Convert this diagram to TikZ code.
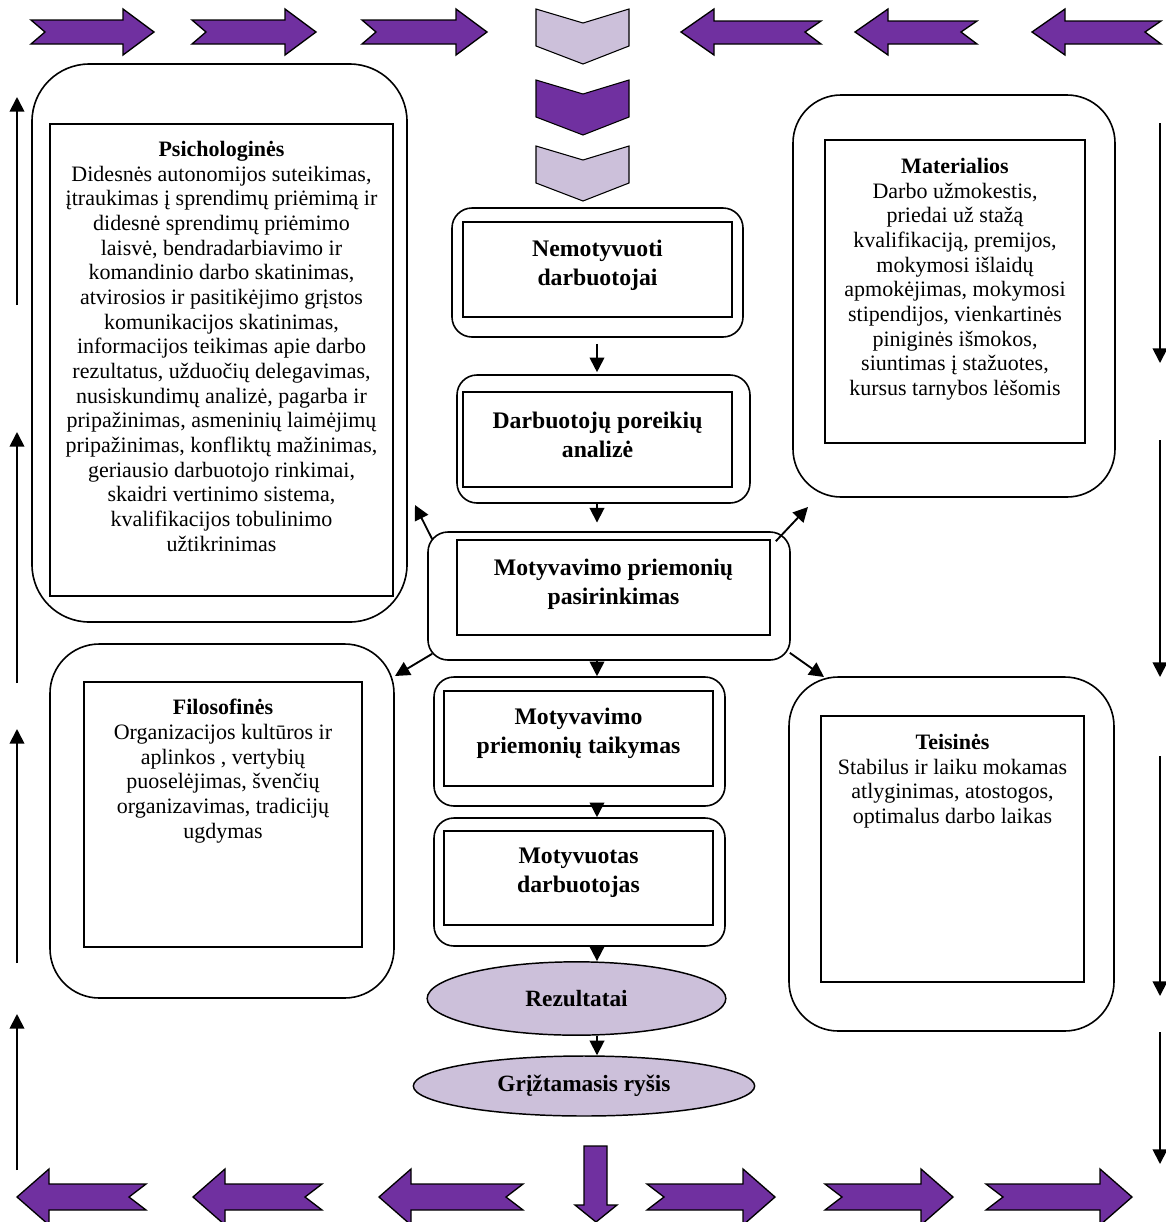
\documentclass[tikz,border=0pt]{standalone}
\usepackage{fontspec}
\setmainfont{Liberation Serif}
\usetikzlibrary{arrows.meta}
\usetikzlibrary{shapes.geometric}
\usetikzlibrary{fit}

\definecolor{violetdark}{HTML}{7030A0}
\definecolor{violetlight}{HTML}{CCC0DA}

\tikzset{
    outerbox/.style={draw, line width=1.2pt, rounded corners=#1, inner sep=0pt},
    innerbox/.style={draw, line width=1.2pt, inner sep=0pt},
    listtext/.style={anchor=north, align=center, inner sep=0pt, font=\fontsize{16.5}{18.5}\selectfont},
    steptext/.style={anchor=north, align=center, inner sep=0pt, font=\fontsize{17.8}{21.75}\selectfont\bfseries},
    result/.style={ellipse, draw, line width=1.1pt, fill=violetlight, inner sep=0pt, font=\fontsize{17.5}{21}\selectfont\bfseries},
    flow/.style={-{Triangle[length=11pt,width=11pt]}, line width=1.4pt},
    blockarrow/.style={draw, line width=1pt, fill=violetdark, line join=miter},
    chevron/.style={draw, line width=0.8pt},
}

\begin{document}
\begin{tikzpicture}[x=0.75pt, y=-0.75pt]
        \useasboundingbox (0,0) rectangle (1166,1222);

        % frame of block arrows
        \foreach \a/\b in {31/154, 192/316, 362/487}
            \draw[blockarrow] (\a,20) -- (\a+14,32) -- (\a,44) -- (\b-31,44) -- (\b-31,55) -- (\b,32) -- (\b-31,9) -- (\b-31,20) -- cycle;
        \foreach \a/\b in {681/821, 855/977, 1032/1161}
            \draw[blockarrow] (\b,21) -- (\b-16,32) -- (\b,44) -- (\a+33,44) -- (\a+33,55) -- (\a,32) -- (\a+33,9) -- (\a+33,21) -- cycle;
        \foreach \t/\c in {9/violetlight, 80/violetdark, 146/violetlight}
            \draw[chevron, fill=\c] (536,\t) -- (583,\t+14) -- (629,\t) -- (629,\t+37) -- (583,\t+55) -- (536,\t+37) -- cycle;
        \foreach \a/\b in {17/146, 193/322, 379/523}
            \draw[blockarrow] (\b,1184) -- (\b-17,1197) -- (\b,1210) -- (\a+32,1210) -- (\a+32,1225) -- (\a,1197) -- (\a+32,1169) -- (\a+32,1184) -- cycle;
        \foreach \a/\b in {647/775, 825/953, 986/1132}
            \draw[blockarrow] (\a,1184) -- (\a+17,1197) -- (\a,1210) -- (\b-32,1210) -- (\b-32,1225) -- (\b,1197) -- (\b-32,1169) -- (\b-32,1184) -- cycle;
        \draw[blockarrow] (584,1146) -- (607,1146) -- (607,1205) -- (617,1205) -- (596,1222) -- (575,1205) -- (584,1205) -- cycle;

        \foreach \b/\t in {305/97, 683/432, 963/729, 1170/1014}
            \draw[flow] (17,\b) -- (17,\t);
        \foreach \t/\b in {123/363, 440/677, 756/996, 1032/1164}
            \draw[flow] (1160,\t) -- (1160,\b);

        % side groups
        \node[outerbox=43pt, fit={(32,64) (407,622)}] (psych) {};
        \node[innerbox, fit={(50,124) (393,596)}] (psychin) {};
        \node[listtext] (psychtxt) at (221.5,141) {\textbf{Psichologinės}\\
            Didesnės autonomijos suteikimas,\\
            įtraukimas į sprendimų priėmimą ir\\
            didesnė sprendimų priėmimo\\
            laisvė, bendradarbiavimo ir\\
            komandinio darbo skatinimas,\\
            atvirosios ir pasitikėjimo grįstos\\
            komunikacijos skatinimas,\\
            informacijos teikimas apie darbo\\
            rezultatus, užduočių delegavimas,\\
            nusiskundimų analizė, pagarba ir\\
            pripažinimas, asmeninių laimėjimų\\
            pripažinimas, konfliktų mažinimas,\\
            geriausio darbuotojo rinkimai,\\
            skaidri vertinimo sistema,\\
            kvalifikacijos tobulinimo\\
            užtikrinimas};

        \node[outerbox=36pt, fit={(793,95) (1115,497)}] (mater) {};
        \node[innerbox, fit={(825,140) (1085,443)}] (materin) {};
        \node[listtext] (matertxt) at (955,158) {\textbf{Materialios}\\
            Darbo užmokestis,\\
            priedai už stažą\\
            kvalifikaciją, premijos,\\
            mokymosi išlaidų\\
            apmokėjimas, mokymosi\\
            stipendijos, vienkartinės\\
            piniginės išmokos,\\
            siuntimas į stažuotes,\\
            kursus tarnybos lėšomis};

        \node[outerbox=37pt, fit={(50,644) (394,998)}] (filos) {};
        \node[innerbox, fit={(84,682) (362,947)}] (filosin) {};
        \node[listtext] (filostxt) at (223,699) {\textbf{Filosofinės}\\
            Organizacijos kultūros ir\\
            aplinkos , vertybių\\
            puoselėjimas, švenčių\\
            organizavimas, tradicijų\\
            ugdymas};

        \node[outerbox=37pt, fit={(789,677) (1114,1031)}] (teis) {};
        \node[innerbox, fit={(821,716) (1084,982)}] (teisin) {};
        \node[listtext] (teistxt) at (952.5,734) {\textbf{Teisinės}\\
            Stabilus ir laiku mokamas\\
            atlyginimas, atostogos,\\
            optimalus darbo laikas};

        % central flow
        \node[outerbox=15pt, fit={(452,208) (743,337)}] (nem) {};
        \node[innerbox, fit={(463,222) (732,317)}] (nemin) {};
        \node[steptext] (nemtxt) at (597.5,240) {Nemotyvuoti\\ darbuotojai};

        \node[outerbox=15pt, fit={(457,375) (750,503)}] (darb) {};
        \node[innerbox, fit={(463,392) (732,487)}] (darbin) {};
        \node[steptext] (darbtxt) at (597.5,412) {Darbuotojų poreikių\\ analizė};

        \node[outerbox=15pt, fit={(428,532) (790,660)}] (motsel) {};
        \node[innerbox, fit={(457,540) (770,635)}] (motselin) {};
        \node[steptext] (motseltxt) at (613.5,559) {Motyvavimo priemonių\\ pasirinkimas};

        \node[outerbox=15pt, fit={(434,677) (725,806)}] (taik) {};
        \node[innerbox, fit={(444,691) (713,786)}] (taikin) {};
        \node[steptext] (taiktxt) at (578.5,708) {Motyvavimo\\ priemonių taikymas};

        \node[outerbox=15pt, fit={(434,818) (725,946)}] (motyv) {};
        \node[innerbox, fit={(444,831) (713,925)}] (motyvin) {};
        \node[steptext] (motyvtxt) at (578.5,848) {Motyvuotas\\ darbuotojas};

        \node[result, minimum width=224pt, minimum height=55pt] (rez) at (576.5,998.5) {Rezultatai};
        \node[result, minimum width=256pt, minimum height=45pt] (gr) at (584,1086) {Grįžtamasis ryšis};

        \coordinate (col) at (597,0);
        \draw[flow, shorten <=4.5pt, shorten >=1.5pt] (col |- nem.south) -- (col |- darb.north);
        \draw[flow, shorten >=6.5pt] (col |- darb.south) -- (col |- motsel.north);
        \draw[flow] (col |- motsel.south) -- (col |- taik.north);
        \draw[flow] (col |- taik.south) -- (col |- motyv.north);
        \draw[flow] (col |- motyv.south) -- (col |- rez.north);
        \draw[flow] (col |- rez.south) -- (col |- gr.north);

        \coordinate (psychtip) at (415,505);
        \coordinate (matertip) at (808,507);
        \coordinate (filostip) at (395,676);
        \coordinate (teistip) at (824,677);
        \draw[flow] ([shift={(5,8)}]motsel.north west) -- (psychtip);
        \draw[flow] ([shift={(-15,10)}]motsel.north east) -- (matertip);
        \draw[flow] ([shift={(5,-7)}]motsel.south west) -- (filostip);
        \draw[flow] ([shift={(-1,-8)}]motsel.south east) -- (teistip);
    \end{tikzpicture}
\end{document}
